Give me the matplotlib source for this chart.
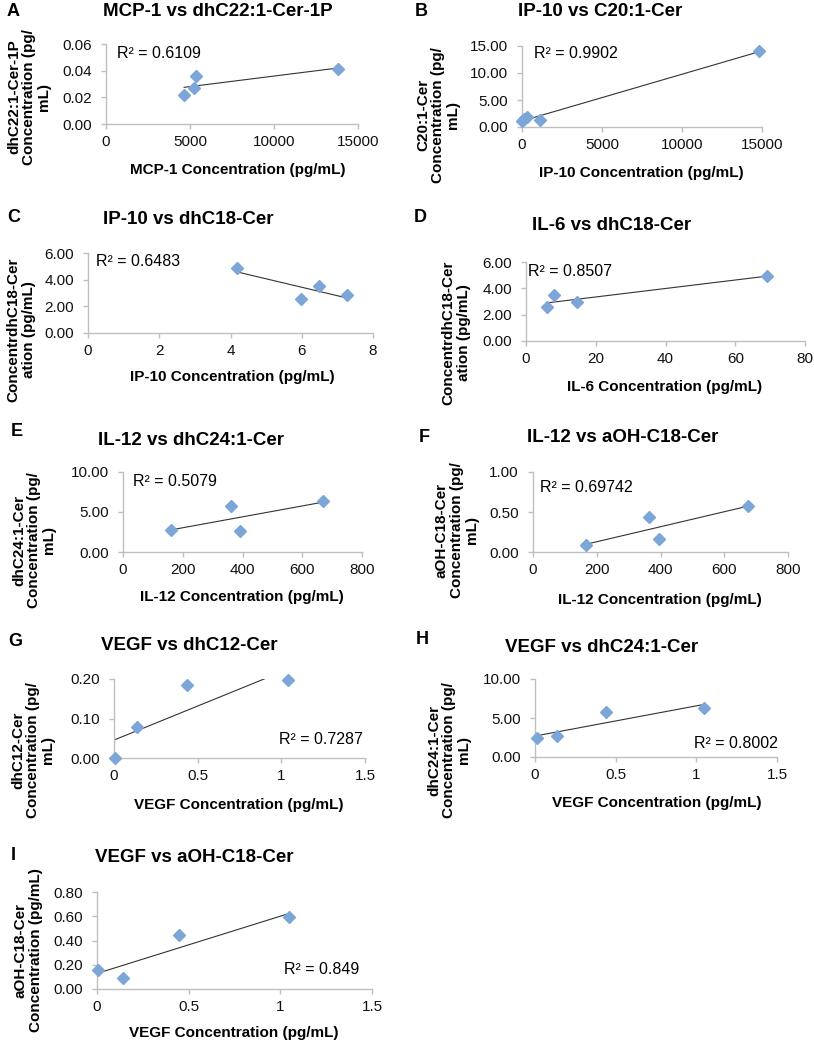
import numpy as np
import matplotlib
matplotlib.use("Agg")
import matplotlib.pyplot as plt
from matplotlib.ticker import FuncFormatter

plt.rcParams['font.family'] = ['Liberation Sans', 'DejaVu Sans']

W, H = 814, 1050

# ---- data (x = cytokine, y = ceramide) ----
mcp1_a = [4650, 5250, 5350, 13800]
dhc22_1p_a = [0.022, 0.027, 0.036, 0.0415]

ip10_b = [20, 120, 330, 1130, 14830]
c20_1_b = [1.1, 1.5, 1.9, 1.3, 14.0]

ip10_c = [4.17, 5.98, 6.49, 7.27]
dhc18_c = [4.88, 2.52, 3.50, 2.88]

il6_d = [69.2, 5.9, 8.1, 14.6]
dhc18_d = [4.94, 2.55, 3.52, 2.94]

il12_e = [160, 361, 391, 671]
dhc24_1_e = [2.71, 5.79, 2.58, 6.38]

il12_f = [166, 365, 396, 674]
aoh_c18_f = [0.084, 0.44, 0.16, 0.58]

vegf_g = [0.006, 0.135, 0.438, 1.042]
dhc12_g = [0.0, 0.079, 0.185, 0.197]

vegf_h = [0.01, 0.135, 0.44, 1.05]
dhc24_1_h = [2.43, 2.64, 5.74, 6.26]

vegf_i = [0.005, 0.142, 0.445, 1.045]
aoh_c18_i = [0.158, 0.093, 0.445, 0.59]

letters = ["A", "B", "C", "D", "E", "F", "G", "H", "I"]
titles = ["MCP-1 vs dhC22:1-Cer-1P", "IP-10 vs C20:1-Cer", "IP-10 vs dhC18-Cer",
          "IL-6 vs dhC18-Cer", "IL-12 vs dhC24:1-Cer", "IL-12 vs aOH-C18-Cer",
          "VEGF vs dhC12-Cer", "VEGF vs dhC24:1-Cer", "VEGF vs aOH-C18-Cer"]
xlabels = ["MCP-1 Concentration (pg/mL)", "IP-10 Concentration (pg/mL)",
           "IP-10 Concentration (pg/mL)", "IL-6 Concentration (pg/mL)",
           "IL-12 Concentration (pg/mL)", "IL-12 Concentration (pg/mL)",
           "VEGF Concentration (pg/mL)", "VEGF Concentration (pg/mL)",
           "VEGF Concentration (pg/mL)"]
ylabels = ["dhC22:1-Cer-1P\nConcentration (pg/\nmL)",
           "C20:1-Cer\nConcentration (pg/\nmL)",
           "ConcentrdhC18-Cer\nation (pg/mL)",
           "ConcentrdhC18-Cer\nation (pg/mL)",
           "dhC24:1-Cer\nConcentration (pg/\nmL)",
           "aOH-C18-Cer\nConcentration (pg/\nmL)",
           "dhC12-Cer\nConcentration (pg/\nmL)",
           "dhC24:1-Cer\nConcentration (pg/\nmL)",
           "aOH-C18-Cer\nConcentration (pg/mL)"]
r2_labels = ["R² = 0.6109", "R² = 0.9902", "R² = 0.6483", "R² = 0.8507",
             "R² = 0.5079", "R² = 0.69742", "R² = 0.7287", "R² = 0.8002",
             "R² = 0.849"]
xticks = [[0, 5000, 10000, 15000], [0, 5000, 10000, 15000], [0, 2, 4, 6, 8],
          [0, 20, 40, 60, 80], [0, 200, 400, 600, 800], [0, 200, 400, 600, 800],
          [0, 0.5, 1, 1.5], [0, 0.5, 1, 1.5], [0, 0.5, 1, 1.5]]
yticks = [[0, 0.02, 0.04, 0.06], [0, 5, 10, 15], [0, 2, 4, 6], [0, 2, 4, 6],
          [0, 5, 10], [0, 0.5, 1.0], [0, 0.1, 0.2], [0, 5, 10],
          [0, 0.2, 0.4, 0.6, 0.8]]

xs = [mcp1_a, ip10_b, ip10_c, il6_d, il12_e, il12_f, vegf_g, vegf_h, vegf_i]
ys = [dhc22_1p_a, c20_1_b, dhc18_c, dhc18_d, dhc24_1_e, aoh_c18_f, dhc12_g,
      dhc24_1_h, aoh_c18_i]

# ---- layout in pixels: plot box (left, right, top, bottom) ----
boxes = [(106, 358, 44, 124), (522, 762, 46, 127), (88, 373, 253, 333),
         (526, 805, 262, 341), (123, 362, 472, 552), (533, 788, 472, 552),
         (114, 365, 679, 758), (535, 777, 679, 757), (97, 372, 892, 989)]
letter_pos = [(13, 11), (421, 11), (14, 218), (420, 218), (17, 432), (424, 437),
              (15, 641), (422, 640), (13, 856)]
title_pos = [(218, 11), (600, 11), (188, 220), (612, 225), (191, 440), (623, 438),
             (189, 645), (602, 647), (194, 858)]
xlabel_pos = [(238, 170), (641, 173), (232, 377), (665, 387), (242, 597),
              (660, 600), (239, 805), (657, 803), (234, 1033)]
ylabel_pos = [(29, 97), (438, 115), (21, 330), (456, 333), (34, 540),
              (457, 530), (33, 750), (449, 750), (28, 950)]
r2_pos = [(117, 53), (534, 54), (96, 262), (528, 272), (133, 482), (540, 487),
          (279, 740), (694, 743), (284, 970)]

MARKER = '#7DA6D8'
AXCOL = '#BFBFBF'


def fx(x):
    return x / W


def fy(y):
    return 1 - y / H


fig = plt.figure(figsize=(W / 100, H / 100), dpi=100)

for i in range(9):
    l, r, t, b = boxes[i]
    ax = fig.add_axes([fx(l), fy(b), (r - l) / W, (b - t) / H])
    x = np.array(xs[i], dtype=float)
    y = np.array(ys[i], dtype=float)

    # linear trend line, Excel style
    k, c = np.polyfit(x, y, 1)
    xx = np.array([x.min(), x.max()])
    ax.plot(xx, k * xx + c, color='#333333', lw=0.8, zorder=2)
    ax.plot(x, y, linestyle='none', marker='D', ms=6.3, color=MARKER,
            mec=MARKER, zorder=3, clip_on=False)

    ax.set_xlim(xticks[i][0], xticks[i][-1])
    ax.set_ylim(yticks[i][0], yticks[i][-1])
    ax.set_xticks(xticks[i])
    ax.set_yticks(yticks[i])
    ax.xaxis.set_major_formatter(FuncFormatter(lambda v, p: '%g' % v))
    ax.yaxis.set_major_formatter(FuncFormatter(lambda v, p: '%.2f' % v))
    for s in ['top', 'right']:
        ax.spines[s].set_visible(False)
    for s in ['left', 'bottom']:
        ax.spines[s].set_color(AXCOL)
        ax.spines[s].set_linewidth(1.0)
    ax.tick_params(axis='both', direction='out', length=3.6, width=1.0,
                   color=AXCOL, labelsize=11, labelcolor='#111111')
    ax.tick_params(axis='y', pad=6.5)
    ax.tick_params(axis='x', pad=4.5)
    ax.patch.set_alpha(0)

    fig.text(fx(letter_pos[i][0]), fy(letter_pos[i][1]), letters[i],
             fontsize=13, fontweight='bold', ha='center', va='center')
    fig.text(fx(title_pos[i][0]), fy(title_pos[i][1]), titles[i],
             fontsize=13.5, fontweight='bold', ha='center', va='center')
    fig.text(fx(xlabel_pos[i][0]), fy(xlabel_pos[i][1]), xlabels[i],
             fontsize=11, fontweight='bold', ha='center', va='center')
    fig.text(fx(ylabel_pos[i][0]), fy(ylabel_pos[i][1]), ylabels[i],
             fontsize=11, fontweight='bold', ha='center', va='center',
             rotation=90, multialignment='center', linespacing=1.1)
    fig.text(fx(r2_pos[i][0]), fy(r2_pos[i][1]), r2_labels[i],
             fontsize=11.5, ha='left', va='center')

fig.savefig("out.png", dpi=100)
